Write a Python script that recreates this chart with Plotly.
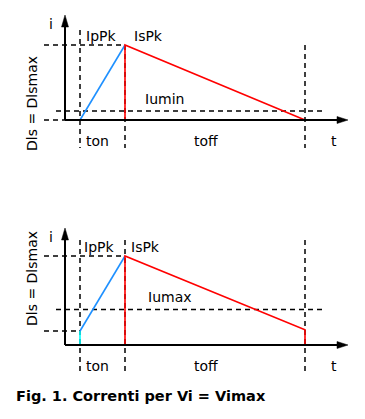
import plotly.graph_objects as go

# ---- data (normalised units: time in units of ton, current in units of IPk) ----
t_marks = [0.0, 1.0, 5.0]            # ton start, ton end, toff end
top_i = {"start": 0.0, "peak": 1.0, "end": 0.0, "level": 0.12}     # Iumin case
bot_i = {"start": 0.157, "peak": 1.0, "end": 0.17, "level": 0.40}  # Iumax case
top_labels = ["IpPk", "IsPk", "Iumin", "ton", "toff", "t", "i", "Dls = Dlsmax"]
bot_labels = ["IpPk", "IsPk", "Iumax", "ton", "toff", "t", "i", "Dls = Dlsmax"]
caption = "Fig. 1. Correnti per Vi = Vimax"

OFF = 8                      # default page margin
W, H = 365 - OFF, 419 - OFF
FONT = "DejaVu Sans"
BLUE, RED, CYAN = "#1e90ff", "#ff0000", "#00ffff"

PX_T = 45.0                  # px per time unit
X0 = 80 - OFF                # px of t=0 inside figure
x_rng = [-X0 / PX_T, (W - X0) / PX_T]
split = 195 - OFF
panels = [
    dict(y0=120 - OFF, s=75.0, ax="y", vals=top_i, labels=top_labels,
         tip=15 - OFF, top=30 - OFF, bot=148 - OFF, lab_y=104 - OFF),
    dict(y0=345 - OFF, s=89.0, ax="y2", vals=bot_i, labels=bot_labels,
         tip=228 - OFF, top=240 - OFF, bot=375 - OFF, lab_y=279 - OFF),
]

fig = go.Figure()
shapes, annots = [], []
t_axis = -15 / PX_T
t_tip = (348 - 80) / PX_T
t_head = 11 / PX_T

for k, p in enumerate(panels):
    yref = p["ax"]
    s = p["s"]
    v = p["vals"]
    t0, t1, t2 = t_marks
    py = lambda pix: (p["y0"] - pix) / s   # layout helper: pixel row -> axis units
    if v["start"] > 0:
        fig.add_trace(go.Scatter(x=[t0, t0], y=[0, v["start"]], mode="lines",
                                 line=dict(color=CYAN, width=1.6), yaxis=yref, hoverinfo="skip"))
    fig.add_trace(go.Scatter(x=[t0, t1], y=[v["start"], v["peak"]], mode="lines",
                             line=dict(color=BLUE, width=1.6), yaxis=yref, hoverinfo="skip"))
    fig.add_trace(go.Scatter(x=[t1, t1, t2, t2], y=[0, v["peak"], v["end"], 0], mode="lines",
                             line=dict(color=RED, width=1.6), yaxis=yref, hoverinfo="skip"))

    def dline(xa, ya, xb, yb):
        shapes.append(dict(type="line", xref="x", yref=yref, x0=xa, y0=ya, x1=xb, y1=yb,
                           line=dict(color="black", width=1.5, dash="5px,4px"), layer="below"))
    top_y = py(p["top"])
    bot_y = py(p["bot"])
    dline(t0, top_y, t0, bot_y)
    dline(t1, v["peak"] if k == 0 else top_y, t1, bot_y)
    dline(t2, v["peak"] if k == 0 else top_y, t2, bot_y)
    x_left = (44 - 80) / PX_T
    x_left2 = (56 - 80) / PX_T
    dline(x_left, v["peak"], t1, v["peak"])
    dline(x_left2, v["level"], (322 - 80) / PX_T, v["level"])
    if v["start"] > 0:
        dline(x_left, v["start"], t0, v["start"])
    else:
        dline(x_left, 0, t_axis, 0)
    # axes with arrows
    y_tip = py(p["tip"])
    y_head = 12 / s
    shapes.append(dict(type="line", xref="x", yref=yref, x0=t_axis, y0=0, x1=t_axis, y1=y_tip - y_head,
                       line=dict(color="black", width=2)))
    shapes.append(dict(type="line", xref="x", yref=yref, x0=t_axis, y0=0, x1=t_tip - t_head, y1=0,
                       line=dict(color="black", width=2)))
    hw_t = 3.5 / PX_T
    hw_i = 3.5 / s
    shapes.append(dict(type="path", xref="x", yref=yref,
                       path=f"M {t_axis-hw_t} {y_tip-y_head} L {t_axis+hw_t} {y_tip-y_head} L {t_axis} {y_tip} Z",
                       fillcolor="black", line=dict(color="black", width=0.5)))
    shapes.append(dict(type="path", xref="x", yref=yref,
                       path=f"M {t_tip-t_head} {-hw_i} L {t_tip-t_head} {hw_i} L {t_tip} 0 Z",
                       fillcolor="black", line=dict(color="black", width=0.5)))
    # labels
    L = p["labels"]
    fnt = dict(family=FONT, size=14, color="black")

    def lab(text, x, y, xs=0, ys=0, xa="left", angle=0):
        annots.append(dict(text=text, x=x, y=y, xref="x", yref=yref, xshift=xs, yshift=ys,
                           xanchor=xa, yanchor="middle", showarrow=False, font=fnt, textangle=angle))
    lab(L[0], t0, v["peak"], xs=4 if k == 0 else 2, ys=9)
    lab(L[1], t1, v["peak"], xs=7 if k == 0 else 4, ys=9)
    lab(L[2], ((143 if k == 0 else 146) - 80) / PX_T, v["level"], ys=12)
    lab(L[3], t0, 0, xs=4, ys=-21)
    lab(L[4], (192 - 80) / PX_T, 0, ys=-21)
    lab(L[5], (329 - 80) / PX_T, 0, ys=-21)
    lab(L[6], t_axis, y_tip, xs=-14, ys=-9, xa="center")
    lab(L[7], (32 - 80) / PX_T, py(p["lab_y"]), xa="center", angle=-90)

annots.append(dict(text="<b>" + caption + "</b>", x=(14 - OFF) / W, y=1 - (396 - OFF) / H,
                   xref="paper", yref="paper", xanchor="left", yanchor="middle", showarrow=False,
                   font=dict(family=FONT, size=14.5, color="black")))

p0, p1 = panels
fig.update_layout(
    width=W, height=H, margin=dict(l=0, r=0, t=0, b=0),
    paper_bgcolor="white", plot_bgcolor="white", showlegend=False,
    xaxis=dict(range=x_rng, visible=False, fixedrange=True),
    yaxis=dict(domain=[1 - split / H, 1], range=[(p0["y0"] - split) / p0["s"], p0["y0"] / p0["s"]],
               visible=False, fixedrange=True),
    yaxis2=dict(domain=[0, 1 - split / H], range=[(p1["y0"] - H) / p1["s"], (p1["y0"] - split) / p1["s"]],
                visible=False, fixedrange=True),
    shapes=shapes, annotations=annots,
)
fig.write_html("out.html", config={"displayModeBar": False})
